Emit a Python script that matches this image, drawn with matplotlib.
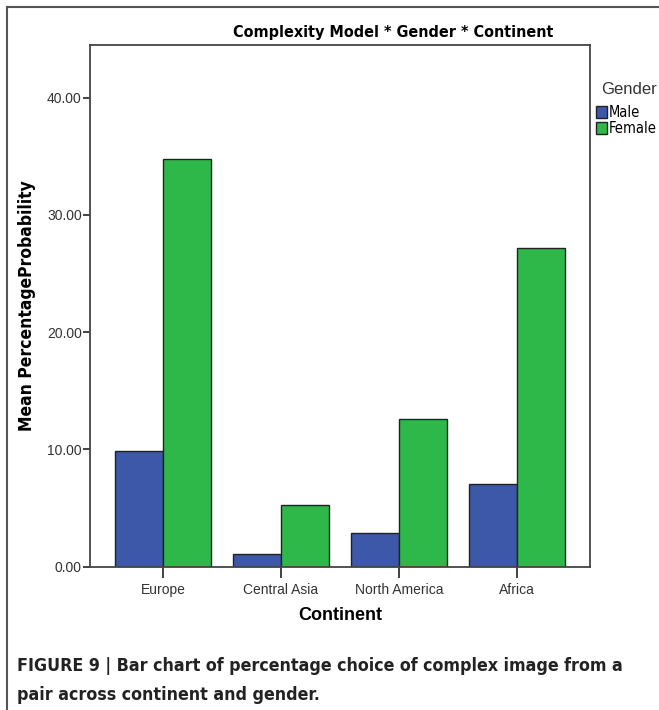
import numpy as np
import matplotlib
matplotlib.use("Agg")
import matplotlib.pyplot as plt
from matplotlib.lines import Line2D

CONTINENTS = ["Europe", "Central Asia", "North America", "Africa"]
GENDERS = ["Male", "Female"]
MALE = [9.86, 1.09, 2.86, 7.09]
FEMALE = [34.75, 5.26, 12.57, 27.15]
Y_TICKS = [0, 10, 20, 30, 40]

MALE_COLOR = "#3D57A9"
FEMALE_COLOR = "#2EB84A"
EDGE = "#222222"
COND = "DejaVu Sans"
SANS = ["Liberation Sans", "DejaVu Sans"]

W, H = 659, 710
fig = plt.figure(figsize=(W / 100, H / 100), dpi=100)


def fx(px):
    return px / W


def fy(py):
    return 1 - py / H


ax = fig.add_axes([fx(90), fy(566.7), fx(590) - fx(90), fy(45) - fy(566.7)])

x = np.arange(len(CONTINENTS))
bw = 0.407
b1 = ax.bar(x - bw / 2, MALE, bw, color=MALE_COLOR, edgecolor=EDGE, linewidth=1.0, label=GENDERS[0])
b2 = ax.bar(x + bw / 2, FEMALE, bw, color=FEMALE_COLOR, edgecolor=EDGE, linewidth=1.0, label=GENDERS[1])

ax.set_xlim(-0.62, len(CONTINENTS) - 1 + 0.62)
ax.set_ylim(0, 44.5)
ax.set_yticks(Y_TICKS)
ax.set_yticklabels([f"{v:.2f}" for v in Y_TICKS], fontfamily=SANS, fontsize=10, color="#333333")
ax.set_xticks(x)
ax.set_xticklabels(CONTINENTS, fontfamily=SANS, fontsize=10, color="#333333")
ax.tick_params(axis="y", length=5, width=1.3, color="#333333", pad=1)
ax.tick_params(axis="x", length=8, width=1.3, color="#333333", pad=4)
for s in ax.spines.values():
    s.set_color("#444444")
    s.set_linewidth(1.3)

ax.set_xlabel("Continent", fontfamily=SANS, fontsize=13, fontweight="bold", labelpad=7)
ax.set_ylabel("Mean PercentageProbability", fontfamily=COND, fontstretch="condensed",
              fontsize=12.5, fontweight="bold", labelpad=8)

fig.text(fx(393), fy(32), "Complexity Model * Gender * Continent", fontfamily=COND,
         fontstretch="condensed", fontsize=11.5, fontweight="bold", ha="center", va="center")

# legend title drawn separately so the gap to the entries matches
fig.text(fx(601), fy(90), "Gender", fontfamily=SANS, fontsize=12, color="#333333",
         ha="left", va="center")
leg = fig.legend(handles=[b1, b2], labels=GENDERS, loc="upper left",
                 bbox_to_anchor=(fx(596), fy(105)), frameon=False,
                 handlelength=0.75, handleheight=0.9, handletextpad=0.15, labelspacing=0.05,
                 borderaxespad=0, borderpad=0,
                 prop={"family": COND, "stretch": "condensed", "size": 10.5})

cap_kw = dict(fontfamily=COND, fontstretch="condensed", fontsize=12.8, fontweight="bold",
              ha="left", va="center", color="#222222")
fig.text(fx(17), fy(666), "FIGURE 9 | Bar chart of percentage choice of complex image from a", **cap_kw)
fig.text(fx(17), fy(695), "pair across continent and gender.", **cap_kw)

# outer frame (top and left edges)
fig.add_artist(Line2D([fx(7), 1], [fy(7), fy(7)], color="#555555", lw=1.5))
fig.add_artist(Line2D([fx(7), fx(7)], [fy(7), 0], color="#555555", lw=1.5))

fig.savefig("out.png", dpi=100)
